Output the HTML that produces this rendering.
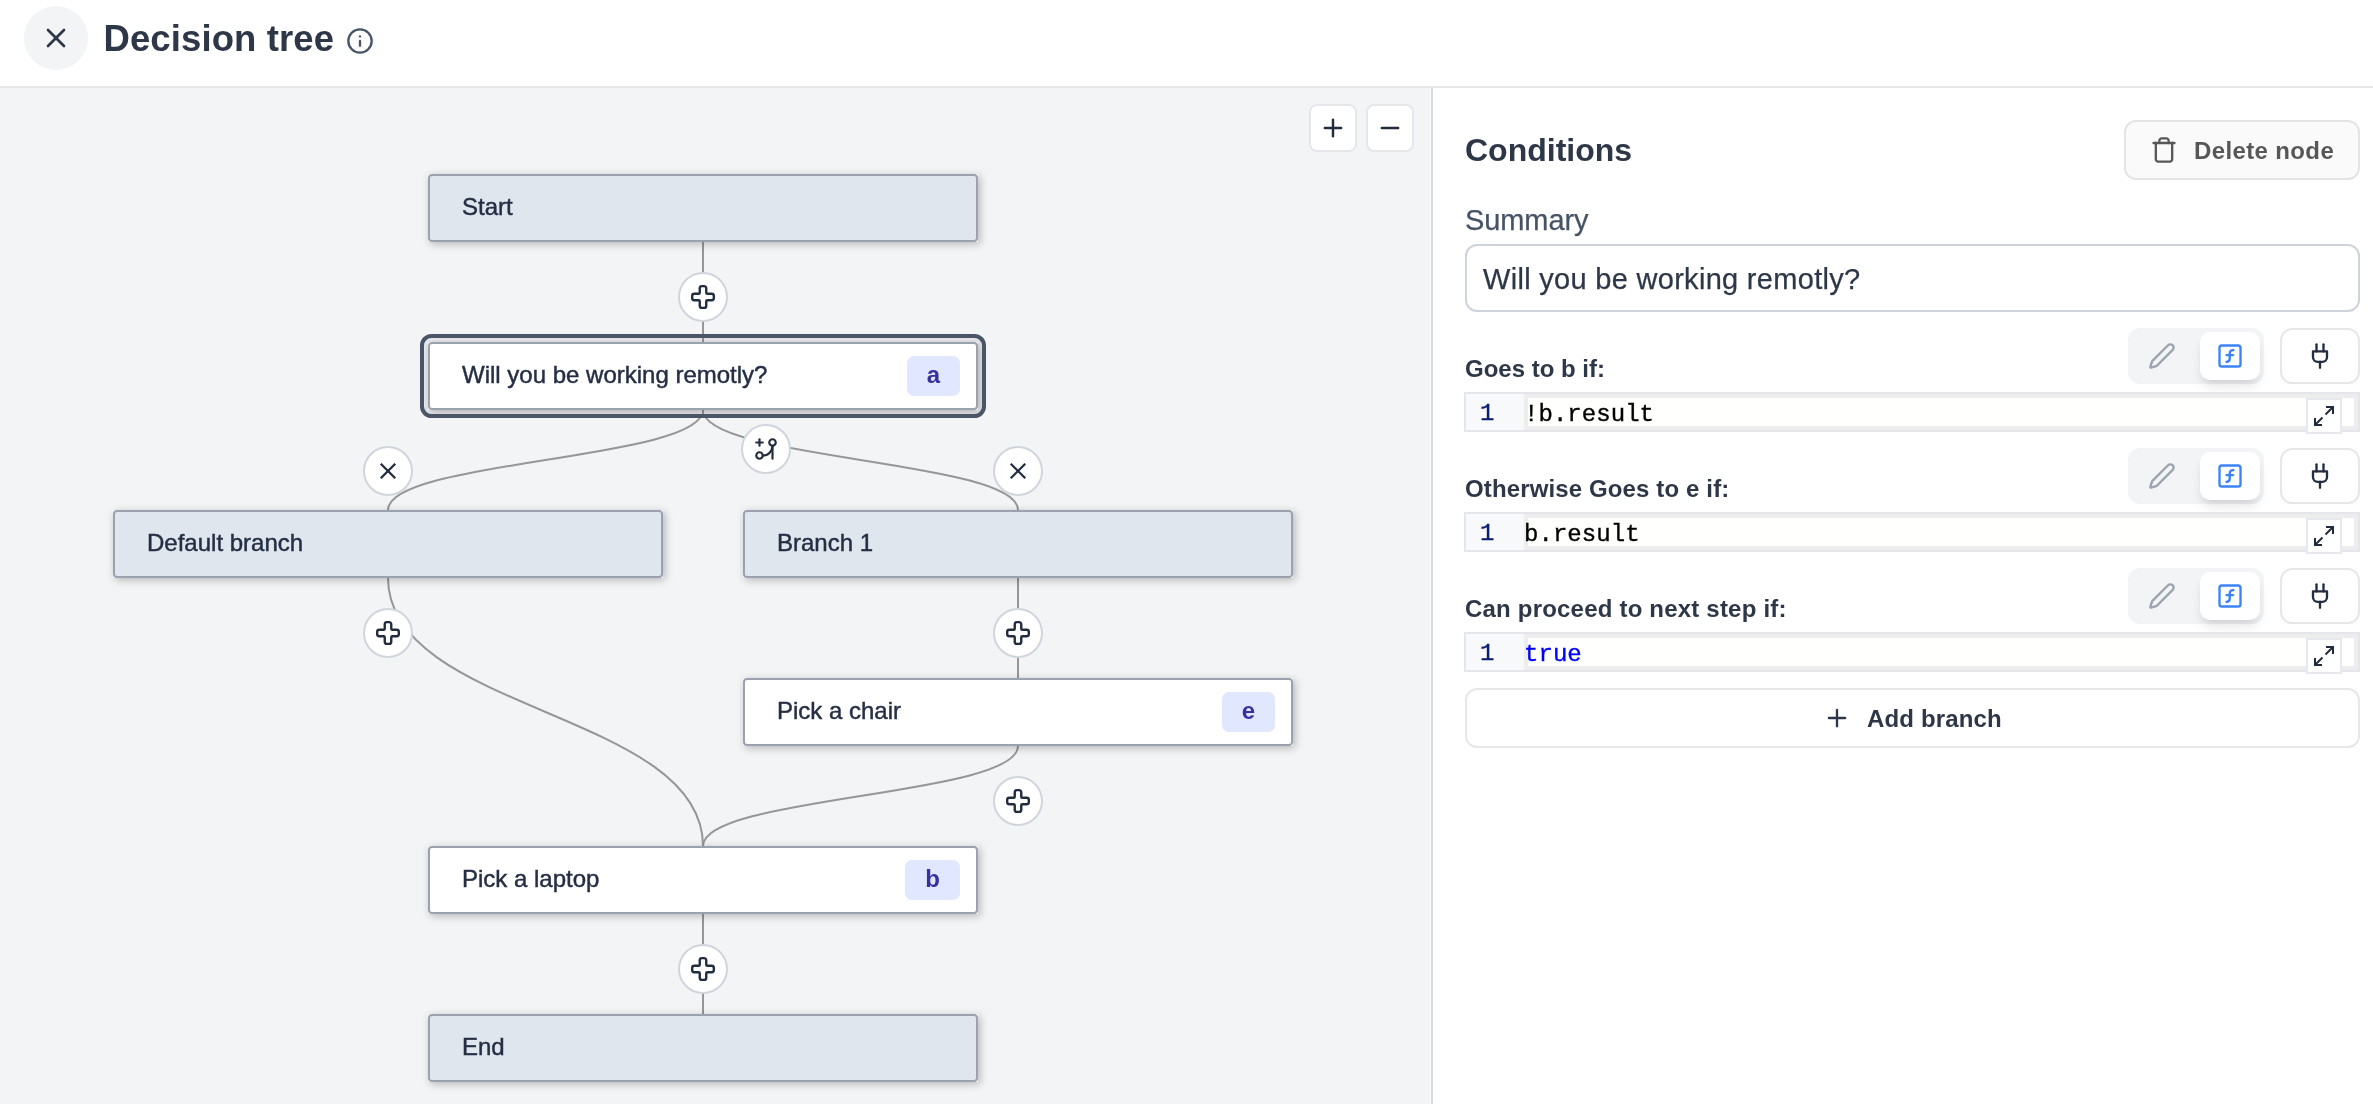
<!DOCTYPE html>
<html lang="en">
<head>
<meta charset="utf-8">
<title>Decision tree</title>
<style>
*{box-sizing:border-box;margin:0;padding:0}
html,body{width:2373px;height:1104px;overflow:hidden;background:#fff}
body{position:relative;font-family:"Liberation Sans",sans-serif;color:#2d3748}
.abs{position:absolute}
.t{position:absolute;white-space:nowrap;line-height:1}
/* header */
#header{position:absolute;left:0;top:0;width:2373px;height:88px}
#closebtn{position:absolute;left:24px;top:6px;width:64px;height:64px;border-radius:50%;background:#f3f4f6}
#title{left:103.500px;top:20.500px;font-size:36.500px;font-weight:700;color:#2d3748;letter-spacing:.1px}
/* canvas */
#canvas{position:absolute;left:0;top:88px;width:1430px;height:1016px;background:#f3f4f6;overflow:hidden}
#divider{position:absolute;left:1431px;top:88px;width:2px;height:1016px;background:#dadada}
#panel{position:absolute;left:1433px;top:88px;width:940px;height:1016px;background:#fff}
#edges{position:absolute;left:0;top:0;width:2373px;height:1104px}
.node{position:absolute;width:550px;height:68px;background:#fff;box-shadow:2px 2px 8px rgba(0,0,0,.26)}
.node .in{position:absolute;left:0;top:0;width:550px;height:68px;border:2px solid #9ba2af;border-radius:4px;background:#fff}
.node.v .in{background:#dfe6ee}
.node .lbl{position:absolute;left:32px;top:17px;font-size:24px;line-height:28px;color:#252e44;white-space:nowrap;-webkit-text-stroke:.45px #252e44}
.badge{position:absolute;right:16px;top:12px;height:40px;padding:0 20px;border-radius:7px;background:#e0e7ff;color:#3730a3;
  font-size:24px;font-weight:700;line-height:37px}
.sel{position:absolute;border:4px solid #4a5567;border-radius:11.500px;background:#e9eaec;overflow:hidden}
.circ{position:absolute;width:50px;height:50px;border-radius:50%;background:#fff;border:2px solid #d0d5dd}
.circ svg{position:absolute;left:10px;top:10px}
.zbtn{position:absolute;width:48px;height:48px;border-radius:8px;background:#fff;border:2px solid #e5e7eb}
.zbtn svg{position:absolute;left:8px;top:8px}
/* panel */
.btn{position:absolute;border:2px solid #e5e7eb;border-radius:12px;background:#fff}
.rowlbl{font-size:24px;font-weight:700;color:#2d3748}
.tg{position:absolute;width:136px;height:56px;border-radius:12px;background:#f3f4f6}
.tg .on{position:absolute;left:72px;top:4px;width:60px;height:48px;border-radius:10px;background:#fff;
  box-shadow:0 8px 12px -2px rgba(0,0,0,.1),0 4px 8px -4px rgba(0,0,0,.1)}
.ed{position:absolute;left:1464px;width:896px;height:40px;background:#ededed;border:2px solid #e4e6eb}
.ed .gut{position:absolute;left:0;top:0;width:58px;height:36px;background:#f8f9fb}
.ed .line{position:absolute;left:62px;top:4px;width:825.700px;height:28px;background:#fffffe}
.ed .ln{position:absolute;left:14px;top:6px;-webkit-text-stroke:.3px #0b216f;font-family:"Liberation Mono",monospace;font-size:24px;line-height:28px;color:#0b216f}
.ed .code{position:absolute;left:58px;top:7px;font-family:"Liberation Mono",monospace;font-size:24px;line-height:28px;color:#000;white-space:pre;letter-spacing:.05px;-webkit-text-stroke:.35px currentColor}
.exp{position:absolute;left:2306px;width:36px;height:36px;background:#fff;border:2px solid #e6e8ed}
.exp svg{position:absolute;left:4px;top:4px}
</style>
</head>
<body>
<div id="canvas"></div>
<div id="divider"></div>
<div id="panel"></div>
<div id="hdrbg" style="position:absolute;left:0;top:0;width:2373px;height:88px;background:#fff;border-bottom:2px solid #e5e7eb"></div>
<div id="fg" style="position:absolute;left:0;top:0;width:2373px;height:1104px;will-change:transform">

<div id="header">
  <div id="closebtn">
    <svg class="abs" style="left:16px;top:16px" width="32" height="32" viewBox="0 0 24 24" fill="none" stroke="#2d3748" stroke-width="2" stroke-linecap="round" stroke-linejoin="round"><path d="M18 6 6 18"/><path d="m6 6 12 12"/></svg>
  </div>
  <div id="title" class="t">Decision tree</div>
  <svg class="abs" style="left:346px;top:27px" width="28" height="28" viewBox="0 0 24 24" fill="none" stroke="#475569" stroke-width="2" stroke-linecap="round" stroke-linejoin="round"><circle cx="12" cy="12" r="10"/><path d="M12 16v-4"/><path d="M12 8h.01"/></svg>
</div>

<!-- edges -->
<svg id="edges" viewBox="0 0 2373 1104" fill="none" stroke="#969696" stroke-width="2">
  <path d="M703 242V342"/>
  <path d="M703 410C703 460 388 460 388 510"/>
  <path d="M703 410C703 460 1018 460 1018 510"/>
  <path d="M388 578C388 712 703 712 703 846"/>
  <path d="M1018 578V678"/>
  <path d="M1018 746C1018 796 703 796 703 846"/>
  <path d="M703 914V1014"/>
</svg>

<!-- nodes -->
<div class="node v" style="left:428px;top:174px"><div class="in"><div class="lbl">Start</div></div></div>

<div class="sel" style="left:420px;top:334px;width:566px;height:84px">
  <div class="abs" style="left:278px;top:0;width:2px;height:76px;background:#969696"></div>
  <div class="node" style="left:4px;top:4px"><div class="in"><div class="lbl">Will you be working remotly?</div><div class="badge">a</div></div></div>
</div>

<div class="node v" style="left:113px;top:510px"><div class="in"><div class="lbl">Default branch</div></div></div>
<div class="node v" style="left:743px;top:510px"><div class="in"><div class="lbl">Branch 1</div></div></div>
<div class="node" style="left:743px;top:678px"><div class="in"><div class="lbl">Pick a chair</div><div class="badge">e</div></div></div>
<div class="node" style="left:428px;top:846px"><div class="in"><div class="lbl">Pick a laptop</div><div class="badge">b</div></div></div>
<div class="node v" style="left:428px;top:1014px"><div class="in"><div class="lbl">End</div></div></div>

<!-- circles -->
<div class="circ" style="left:678px;top:272px"><svg width="26" height="26" viewBox="0 0 24 24" fill="none" stroke="#222c3f" stroke-width="2.2" stroke-linecap="round" stroke-linejoin="round"><path d="M4 9a2 2 0 0 0-2 2v2a2 2 0 0 0 2 2h4a1 1 0 0 1 1 1v4a2 2 0 0 0 2 2h2a2 2 0 0 0 2-2v-4a1 1 0 0 1 1-1h4a2 2 0 0 0 2-2v-2a2 2 0 0 0-2-2h-4a1 1 0 0 1-1-1V4a2 2 0 0 0-2-2h-2a2 2 0 0 0-2 2v4a1 1 0 0 1-1 1z"/></svg></div>
<div class="circ" style="left:363px;top:608px"><svg width="26" height="26" viewBox="0 0 24 24" fill="none" stroke="#222c3f" stroke-width="2.2" stroke-linecap="round" stroke-linejoin="round"><path d="M4 9a2 2 0 0 0-2 2v2a2 2 0 0 0 2 2h4a1 1 0 0 1 1 1v4a2 2 0 0 0 2 2h2a2 2 0 0 0 2-2v-4a1 1 0 0 1 1-1h4a2 2 0 0 0 2-2v-2a2 2 0 0 0-2-2h-4a1 1 0 0 1-1-1V4a2 2 0 0 0-2-2h-2a2 2 0 0 0-2 2v4a1 1 0 0 1-1 1z"/></svg></div>
<div class="circ" style="left:993px;top:608px"><svg width="26" height="26" viewBox="0 0 24 24" fill="none" stroke="#222c3f" stroke-width="2.2" stroke-linecap="round" stroke-linejoin="round"><path d="M4 9a2 2 0 0 0-2 2v2a2 2 0 0 0 2 2h4a1 1 0 0 1 1 1v4a2 2 0 0 0 2 2h2a2 2 0 0 0 2-2v-4a1 1 0 0 1 1-1h4a2 2 0 0 0 2-2v-2a2 2 0 0 0-2-2h-4a1 1 0 0 1-1-1V4a2 2 0 0 0-2-2h-2a2 2 0 0 0-2 2v4a1 1 0 0 1-1 1z"/></svg></div>
<div class="circ" style="left:993px;top:776px"><svg width="26" height="26" viewBox="0 0 24 24" fill="none" stroke="#222c3f" stroke-width="2.2" stroke-linecap="round" stroke-linejoin="round"><path d="M4 9a2 2 0 0 0-2 2v2a2 2 0 0 0 2 2h4a1 1 0 0 1 1 1v4a2 2 0 0 0 2 2h2a2 2 0 0 0 2-2v-4a1 1 0 0 1 1-1h4a2 2 0 0 0 2-2v-2a2 2 0 0 0-2-2h-4a1 1 0 0 1-1-1V4a2 2 0 0 0-2-2h-2a2 2 0 0 0-2 2v4a1 1 0 0 1-1 1z"/></svg></div>
<div class="circ" style="left:678px;top:944px"><svg width="26" height="26" viewBox="0 0 24 24" fill="none" stroke="#222c3f" stroke-width="2.2" stroke-linecap="round" stroke-linejoin="round"><path d="M4 9a2 2 0 0 0-2 2v2a2 2 0 0 0 2 2h4a1 1 0 0 1 1 1v4a2 2 0 0 0 2 2h2a2 2 0 0 0 2-2v-4a1 1 0 0 1 1-1h4a2 2 0 0 0 2-2v-2a2 2 0 0 0-2-2h-4a1 1 0 0 1-1-1V4a2 2 0 0 0-2-2h-2a2 2 0 0 0-2 2v4a1 1 0 0 1-1 1z"/></svg></div>

<div class="circ" style="left:363px;top:446px"><svg width="26" height="26" viewBox="0 0 24 24" fill="none" stroke="#222c3f" stroke-width="2.1" stroke-linecap="butt"><path d="M18.7 5.300 5.300 18.700"/><path d="M5.300 5.300 18.700 18.700"/></svg></div>
<div class="circ" style="left:993px;top:446px"><svg width="26" height="26" viewBox="0 0 24 24" fill="none" stroke="#222c3f" stroke-width="2.1" stroke-linecap="butt"><path d="M18.7 5.300 5.300 18.700"/><path d="M5.300 5.300 18.700 18.700"/></svg></div>

<div class="circ" style="left:741px;top:424px"><svg width="26" height="26" viewBox="0 0 24 24" fill="none" stroke="#222c3f" stroke-width="2" stroke-linecap="round" stroke-linejoin="round"><g transform="rotate(180 12 12)"><path d="M6 3v12"/><path d="M18 9a3 3 0 1 0 0-6 3 3 0 0 0 0 6z"/><path d="M6 21a3 3 0 1 0 0-6 3 3 0 0 0 0 6z"/><path d="M15 6a9 9 0 0 0-9 9"/><path d="M18 15v6"/><path d="M21 18h-6"/></g></svg></div>

<!-- zoom buttons -->
<div class="zbtn" style="left:1309px;top:104px"><svg width="28" height="28" viewBox="0 0 24 24" fill="none" stroke="#222c3f" stroke-width="2.1" stroke-linecap="round"><path d="M5 12h14"/><path d="M12 5v14"/></svg></div>
<div class="zbtn" style="left:1366px;top:104px"><svg width="28" height="28" viewBox="0 0 24 24" fill="none" stroke="#222c3f" stroke-width="2.1" stroke-linecap="round"><path d="M5 12h14"/></svg></div>

<!-- right panel -->
<div class="t" style="left:1465px;top:134px;font-size:32px;font-weight:700;color:#2d3748">Conditions</div>

<div class="btn" style="left:2124px;top:120px;width:236px;height:60px;background:#fafafa;border-color:#e4e4e4">
  <svg class="abs" style="left:24px;top:14px" width="28" height="28" viewBox="0 0 24 24" fill="none" stroke="#575757" stroke-width="2" stroke-linecap="round" stroke-linejoin="round"><path d="M3 6h18"/><path d="M19 6v14c0 1-1 2-2 2H7c-1 0-2-1-2-2V6"/><path d="M8 6V4c0-1 1-2 2-2h4c1 0 2 1 2 2v2"/></svg>
  <div class="t" style="left:68px;top:17px;font-size:24px;font-weight:700;color:#575757;letter-spacing:.37px">Delete node</div>
</div>

<div class="t" style="left:1465px;top:206px;font-size:29px;color:#465266;letter-spacing:-.1px;-webkit-text-stroke:.25px #465266">Summary</div>
<div class="btn" style="left:1465px;top:244px;width:895px;height:68px;border-color:#cdd2db">
  <div class="t" style="left:16px;top:18.500px;font-size:29px;color:#2d3748;letter-spacing:.3px;-webkit-text-stroke:.25px #2d3748">Will you be working remotly?</div>
</div>

<!-- row 1 -->
<div class="t rowlbl" style="left:1465px;top:357px">Goes to b if:</div>
<div class="tg" style="left:2128px;top:328px">
  <svg class="abs" style="left:20px;top:14px" width="28" height="28" viewBox="0 0 24 24" fill="none" stroke="#9ca3af" stroke-width="2" stroke-linecap="round" stroke-linejoin="round"><path d="M21.174 6.812a1 1 0 0 0-3.986-3.987L3.842 16.174a2 2 0 0 0-.5.830l-1.321 4.352a.5.5 0 0 0 .623.622l4.353-1.320a2 2 0 0 0 .830-.497z"/></svg>
  <div class="on"><svg class="abs" style="left:16px;top:10px" width="28" height="28" viewBox="0 0 24 24" fill="none" stroke="#3b82f6" stroke-width="2" stroke-linecap="round" stroke-linejoin="round"><rect width="18" height="18" x="3" y="3" rx="2" ry="2"/><path d="M9 17c2 0 2.800-1 2.800-2.800V10c0-2 1-3.300 3.200-3"/><path d="M9 11.200h5.700"/></svg></div>
</div>
<div class="btn" style="left:2280px;top:328px;width:80px;height:56px">
  <svg class="abs" style="left:24px;top:12px" width="28" height="28" viewBox="0 0 24 24" fill="none" stroke="#222c3f" stroke-width="2" stroke-linecap="round" stroke-linejoin="round"><path d="M12 22v-5"/><path d="M9 8V2"/><path d="M15 8V2"/><path d="M18 8v5a4 4 0 0 1-4 4h-4a4 4 0 0 1-4-4V8Z"/></svg>
</div>
<div class="ed" style="top:392px"><div class="gut"></div><div class="line"></div><div class="ln">1</div><div class="code">!b.result</div></div>
<div class="exp" style="top:398px"><svg width="24" height="24" viewBox="0 0 24 24" fill="none" stroke="#222c3f" stroke-width="2" stroke-linecap="butt" stroke-linejoin="miter"><path d="M14 3h7v7"/><path d="M10 21H3v-7"/><path d="M20.5 3.500l-7 7"/><path d="M3.500 20.500l7-7"/></svg></div>

<!-- row 2 -->
<div class="t rowlbl" style="left:1465px;top:477px;letter-spacing:.13px">Otherwise Goes to e if:</div>
<div class="tg" style="left:2128px;top:448px">
  <svg class="abs" style="left:20px;top:14px" width="28" height="28" viewBox="0 0 24 24" fill="none" stroke="#9ca3af" stroke-width="2" stroke-linecap="round" stroke-linejoin="round"><path d="M21.174 6.812a1 1 0 0 0-3.986-3.987L3.842 16.174a2 2 0 0 0-.5.830l-1.321 4.352a.5.5 0 0 0 .623.622l4.353-1.320a2 2 0 0 0 .830-.497z"/></svg>
  <div class="on"><svg class="abs" style="left:16px;top:10px" width="28" height="28" viewBox="0 0 24 24" fill="none" stroke="#3b82f6" stroke-width="2" stroke-linecap="round" stroke-linejoin="round"><rect width="18" height="18" x="3" y="3" rx="2" ry="2"/><path d="M9 17c2 0 2.800-1 2.800-2.800V10c0-2 1-3.300 3.200-3"/><path d="M9 11.200h5.700"/></svg></div>
</div>
<div class="btn" style="left:2280px;top:448px;width:80px;height:56px">
  <svg class="abs" style="left:24px;top:12px" width="28" height="28" viewBox="0 0 24 24" fill="none" stroke="#222c3f" stroke-width="2" stroke-linecap="round" stroke-linejoin="round"><path d="M12 22v-5"/><path d="M9 8V2"/><path d="M15 8V2"/><path d="M18 8v5a4 4 0 0 1-4 4h-4a4 4 0 0 1-4-4V8Z"/></svg>
</div>
<div class="ed" style="top:512px"><div class="gut"></div><div class="line"></div><div class="ln">1</div><div class="code">b.result</div></div>
<div class="exp" style="top:518px"><svg width="24" height="24" viewBox="0 0 24 24" fill="none" stroke="#222c3f" stroke-width="2" stroke-linecap="butt" stroke-linejoin="miter"><path d="M14 3h7v7"/><path d="M10 21H3v-7"/><path d="M20.5 3.500l-7 7"/><path d="M3.500 20.500l7-7"/></svg></div>

<!-- row 3 -->
<div class="t rowlbl" style="left:1465px;top:597px;letter-spacing:.2px">Can proceed to next step if:</div>
<div class="tg" style="left:2128px;top:568px">
  <svg class="abs" style="left:20px;top:14px" width="28" height="28" viewBox="0 0 24 24" fill="none" stroke="#9ca3af" stroke-width="2" stroke-linecap="round" stroke-linejoin="round"><path d="M21.174 6.812a1 1 0 0 0-3.986-3.987L3.842 16.174a2 2 0 0 0-.5.830l-1.321 4.352a.5.5 0 0 0 .623.622l4.353-1.320a2 2 0 0 0 .830-.497z"/></svg>
  <div class="on"><svg class="abs" style="left:16px;top:10px" width="28" height="28" viewBox="0 0 24 24" fill="none" stroke="#3b82f6" stroke-width="2" stroke-linecap="round" stroke-linejoin="round"><rect width="18" height="18" x="3" y="3" rx="2" ry="2"/><path d="M9 17c2 0 2.800-1 2.800-2.800V10c0-2 1-3.300 3.200-3"/><path d="M9 11.200h5.700"/></svg></div>
</div>
<div class="btn" style="left:2280px;top:568px;width:80px;height:56px">
  <svg class="abs" style="left:24px;top:12px" width="28" height="28" viewBox="0 0 24 24" fill="none" stroke="#222c3f" stroke-width="2" stroke-linecap="round" stroke-linejoin="round"><path d="M12 22v-5"/><path d="M9 8V2"/><path d="M15 8V2"/><path d="M18 8v5a4 4 0 0 1-4 4h-4a4 4 0 0 1-4-4V8Z"/></svg>
</div>
<div class="ed" style="top:632px"><div class="gut"></div><div class="line"></div><div class="ln">1</div><div class="code" style="color:#0000ff">true</div></div>
<div class="exp" style="top:638px"><svg width="24" height="24" viewBox="0 0 24 24" fill="none" stroke="#222c3f" stroke-width="2" stroke-linecap="butt" stroke-linejoin="miter"><path d="M14 3h7v7"/><path d="M10 21H3v-7"/><path d="M20.5 3.500l-7 7"/><path d="M3.500 20.500l7-7"/></svg></div>

<!-- add branch -->
<div class="btn" style="left:1465px;top:688px;width:895px;height:60px">
  <svg class="abs" style="left:356px;top:14px" width="28" height="28" viewBox="0 0 24 24" fill="none" stroke="#2d3748" stroke-width="2" stroke-linecap="round"><path d="M5 12h14"/><path d="M12 5v14"/></svg>
  <div class="t" style="left:400px;top:17px;font-size:24px;font-weight:700;color:#2d3748;letter-spacing:.15px">Add branch</div>
</div>

</div>
</body>
</html>
